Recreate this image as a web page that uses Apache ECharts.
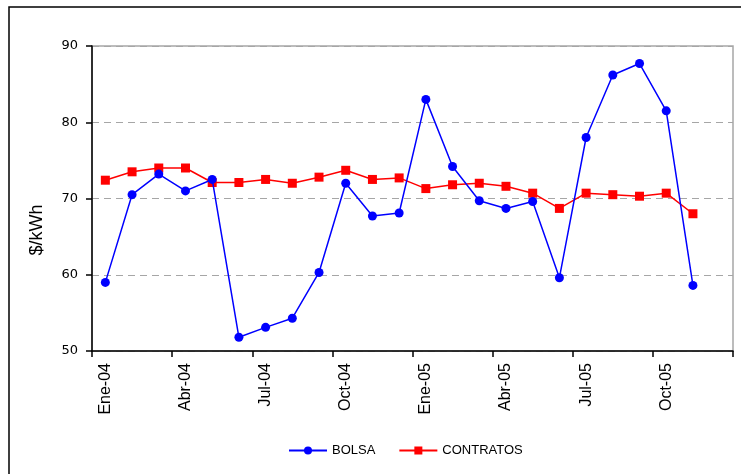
<!DOCTYPE html>
<html>
<head>
<meta charset="utf-8">
<script src="https://cdn.jsdelivr.net/npm/echarts@6/dist/echarts.min.js"></script>
<style>
html,body{margin:0;padding:0;background:#fff;}
#chart{width:741px;height:474px;}
</style>
</head>
<body>
<div id="chart"></div>
<script>
const categories = ["Ene-04","Feb-04","Mar-04","Abr-04","May-04","Jun-04","Jul-04","Ago-04","Sep-04","Oct-04","Nov-04","Dic-04",
  "Ene-05","Feb-05","Mar-05","Abr-05","May-05","Jun-05","Jul-05","Ago-05","Sep-05","Oct-05","Nov-05","Dic-05"];
const bolsa = [59.0,70.5,73.2,71.0,72.5,51.8,53.1,54.3,60.3,72.0,67.7,68.1,83.0,74.2,69.7,68.7,69.6,59.6,78.0,86.2,87.7,81.5,58.6];
const contratos = [72.4,73.5,74.0,74.0,72.1,72.1,72.5,72.0,72.8,73.7,72.5,72.7,71.3,71.8,72.0,71.6,70.7,68.7,70.7,70.5,70.3,70.7,68.0];
const seriesNames = ["BOLSA","CONTRATOS"];
const yAxisTitle = "$/kWh";

const chart = echarts.init(document.getElementById('chart'), null, {renderer:'canvas'});
const font = 'Liberation Sans, Arial, sans-serif';
chart.setOption({
  animation:false,
  backgroundColor:'#fff',
  graphic:[
    {type:'rect',shape:{x:9,y:7,width:800,height:600},style:{fill:'none',stroke:'#000',lineWidth:1.5},z:-1},
    {type:'text',x:37.5,y:230,rotation:Math.PI/2,
     style:{text:yAxisTitle,fontFamily:font,fontSize:18,fill:'#000',textAlign:'center',textVerticalAlign:'middle'}}
  ],
  grid:{left:92,right:8,top:46,bottom:123,show:true,borderColor:'#a6a6a6',borderWidth:1.5,containLabel:false},
  legend:{
    data:seriesNames,left:288,top:444,padding:0,itemWidth:38,itemHeight:10,itemGap:23,
    textStyle:{fontFamily:font,fontSize:13,color:'#000'}
  },
  xAxis:{
    type:'category',data:categories,boundaryGap:true,
    axisLine:{lineStyle:{color:'#000',width:1.5}},
    axisTick:{show:true,interval:2,length:6,lineStyle:{color:'#000',width:1.5}},
    axisLabel:{interval:2,rotate:90,margin:12,fontFamily:font,fontSize:16,color:'#000'},
    splitLine:{show:false}
  },
  yAxis:{
    type:'value',min:50,max:90,interval:10,
    axisLine:{show:true,lineStyle:{color:'#000',width:1.5}},
    axisTick:{show:true,length:6,lineStyle:{color:'#000',width:1.5}},
    axisLabel:{margin:14,fontFamily:'DejaVu Sans, sans-serif',fontSize:13,color:'#000'},
    splitLine:{show:true,lineStyle:{color:'#a6a6a6',type:[7,5],width:1}}
  },
  series:[
    {name:'BOLSA',type:'line',data:bolsa,symbol:'circle',symbolSize:9,
     lineStyle:{color:'#0000ff',width:1.5},itemStyle:{color:'#0000ff'},z:3},
    {name:'CONTRATOS',type:'line',data:contratos,symbol:'rect',symbolSize:9,
     lineStyle:{color:'#ff0000',width:1.5},itemStyle:{color:'#ff0000'},z:2}
  ]
});
</script>
</body>
</html>
